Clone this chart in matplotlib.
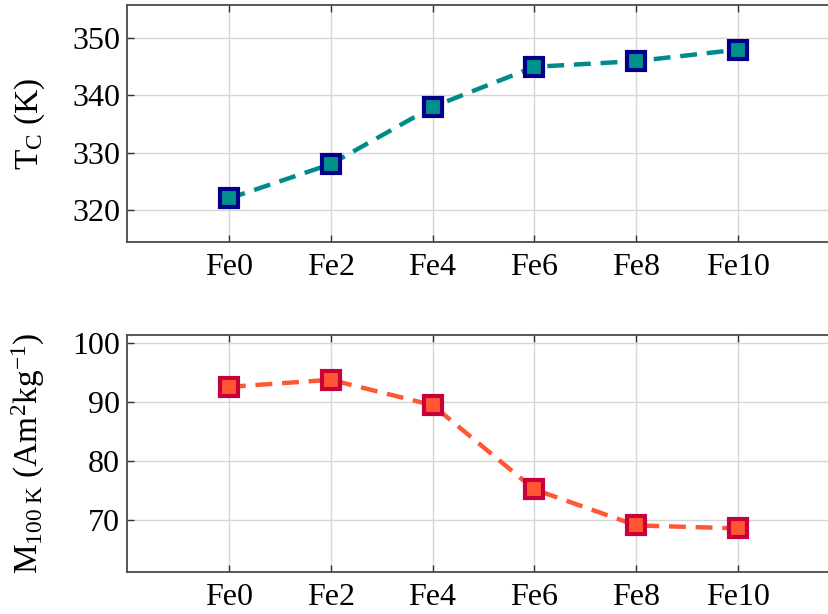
import matplotlib
matplotlib.use("Agg")
import matplotlib.pyplot as plt

samples = ["Fe0", "Fe2", "Fe4", "Fe6", "Fe8", "Fe10"]
curie_temp = [322, 328, 338, 345, 346, 348]
magnetization_100k = [92.6, 93.8, 89.5, 75.2, 69.1, 68.6]

plt.rcParams["font.family"] = ["Liberation Serif", "DejaVu Serif"]
plt.rcParams["mathtext.fontset"] = "custom"
plt.rcParams["mathtext.rm"] = "Liberation Serif"
plt.rcParams["mathtext.it"] = "Liberation Serif:italic"

W, H = 829, 614
fig = plt.figure(figsize=(W / 100, H / 100), dpi=100)

def frac_box(left, top, right, bottom):
    return [left / W, 1 - bottom / H, (right - left) / W, (bottom - top) / H]

ax1 = fig.add_axes(frac_box(127, 5, 840, 242))
ax2 = fig.add_axes(frac_box(127, 335, 840, 572))

xpos = list(range(len(samples)))

styles = [
    (ax1, curie_temp, "#008B8B", "#00008B", "#00918C", (314.4, 355.8), [320, 330, 340, 350],
     r"T$_\mathregular{C}$ (K)"),
    (ax2, magnetization_100k, "#FF5733", "#C8003C", "#FF5733", (61.2, 101.4), [70, 80, 90, 100],
     r"M$_\mathregular{100\ K}$ (Am$^\mathregular{2}$kg$^\mathregular{-1}$)"),
]

for ax, vals, lc, mec, mfc, ylim, yticks, ylabel in styles:
    ax.plot(xpos, vals, color=lc, lw=3.2, dashes=(3.8, 2.2), zorder=3,
            marker="s", markersize=13, markeredgewidth=3.0,
            markeredgecolor=mec, markerfacecolor=mfc)
    ax.set_xlim(-1, 6)
    ax.set_ylim(*ylim)
    ax.set_xticks(xpos)
    ax.set_xticklabels(samples)
    ax.set_yticks(yticks)
    ax.grid(True, color="#D6D6D6", lw=1.0, zorder=0)
    ax.set_axisbelow(True)
    for side in ("left", "bottom", "top"):
        ax.spines[side].set_color("#4A4A4A")
        ax.spines[side].set_linewidth(1.3)
    ax.spines["right"].set_visible(False)
    ax.tick_params(axis="both", direction="in", length=5, width=1.0, color="#333333",
                   labelsize=23, labelcolor="black", top=True, right=False)
    ax.tick_params(axis="x", pad=8)
    ax.tick_params(axis="y", pad=5)
    ax.set_ylabel(ylabel, fontsize=24)
    ax.yaxis.set_label_coords(-0.112, 0.5)

fig.savefig("out.png", dpi=100)
